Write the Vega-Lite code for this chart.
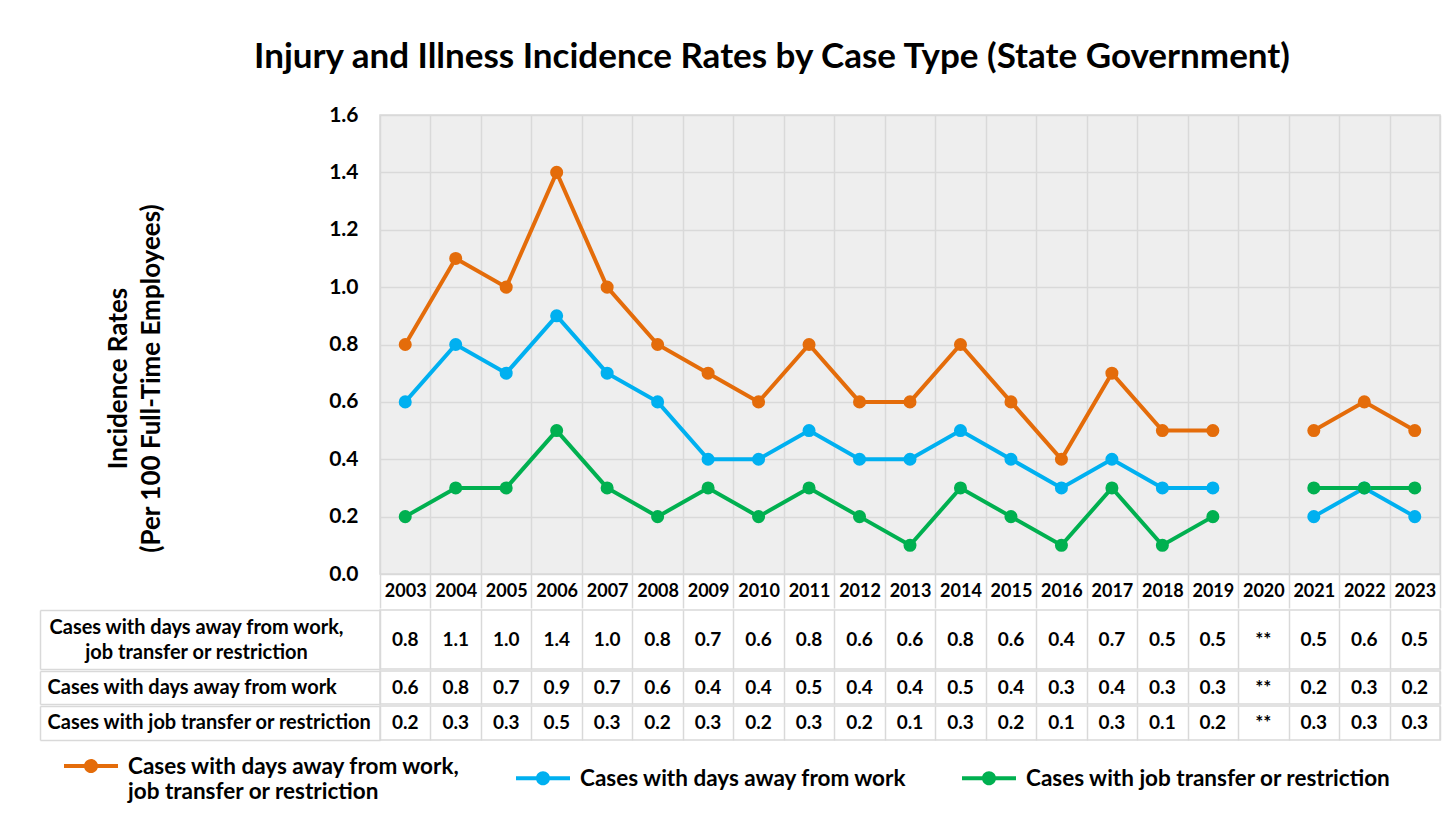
{
  "$schema": "https://vega.github.io/schema/vega-lite/v6.json",
  "background": "white",
  "padding": {"left": 38, "top": 40, "right": 5, "bottom": 5},
  "title": {"text": "Injury and Illness Incidence Rates by Case Type (State Government)", "font": "Lato", "fontSize": 35, "fontWeight": "bold", "color": "black", "anchor": "middle", "offset": 28, "dx": 32},
  "datasets": {
    "rates": [
      {"year": 2003, "series": "Cases with days away from work, job transfer or restriction", "value": 0.8},
      {"year": 2004, "series": "Cases with days away from work, job transfer or restriction", "value": 1.1},
      {"year": 2005, "series": "Cases with days away from work, job transfer or restriction", "value": 1.0},
      {"year": 2006, "series": "Cases with days away from work, job transfer or restriction", "value": 1.4},
      {"year": 2007, "series": "Cases with days away from work, job transfer or restriction", "value": 1.0},
      {"year": 2008, "series": "Cases with days away from work, job transfer or restriction", "value": 0.8},
      {"year": 2009, "series": "Cases with days away from work, job transfer or restriction", "value": 0.7},
      {"year": 2010, "series": "Cases with days away from work, job transfer or restriction", "value": 0.6},
      {"year": 2011, "series": "Cases with days away from work, job transfer or restriction", "value": 0.8},
      {"year": 2012, "series": "Cases with days away from work, job transfer or restriction", "value": 0.6},
      {"year": 2013, "series": "Cases with days away from work, job transfer or restriction", "value": 0.6},
      {"year": 2014, "series": "Cases with days away from work, job transfer or restriction", "value": 0.8},
      {"year": 2015, "series": "Cases with days away from work, job transfer or restriction", "value": 0.6},
      {"year": 2016, "series": "Cases with days away from work, job transfer or restriction", "value": 0.4},
      {"year": 2017, "series": "Cases with days away from work, job transfer or restriction", "value": 0.7},
      {"year": 2018, "series": "Cases with days away from work, job transfer or restriction", "value": 0.5},
      {"year": 2019, "series": "Cases with days away from work, job transfer or restriction", "value": 0.5},
      {"year": 2020, "series": "Cases with days away from work, job transfer or restriction", "value": null},
      {"year": 2021, "series": "Cases with days away from work, job transfer or restriction", "value": 0.5},
      {"year": 2022, "series": "Cases with days away from work, job transfer or restriction", "value": 0.6},
      {"year": 2023, "series": "Cases with days away from work, job transfer or restriction", "value": 0.5},
      {"year": 2003, "series": "Cases with days away from work", "value": 0.6},
      {"year": 2004, "series": "Cases with days away from work", "value": 0.8},
      {"year": 2005, "series": "Cases with days away from work", "value": 0.7},
      {"year": 2006, "series": "Cases with days away from work", "value": 0.9},
      {"year": 2007, "series": "Cases with days away from work", "value": 0.7},
      {"year": 2008, "series": "Cases with days away from work", "value": 0.6},
      {"year": 2009, "series": "Cases with days away from work", "value": 0.4},
      {"year": 2010, "series": "Cases with days away from work", "value": 0.4},
      {"year": 2011, "series": "Cases with days away from work", "value": 0.5},
      {"year": 2012, "series": "Cases with days away from work", "value": 0.4},
      {"year": 2013, "series": "Cases with days away from work", "value": 0.4},
      {"year": 2014, "series": "Cases with days away from work", "value": 0.5},
      {"year": 2015, "series": "Cases with days away from work", "value": 0.4},
      {"year": 2016, "series": "Cases with days away from work", "value": 0.3},
      {"year": 2017, "series": "Cases with days away from work", "value": 0.4},
      {"year": 2018, "series": "Cases with days away from work", "value": 0.3},
      {"year": 2019, "series": "Cases with days away from work", "value": 0.3},
      {"year": 2020, "series": "Cases with days away from work", "value": null},
      {"year": 2021, "series": "Cases with days away from work", "value": 0.2},
      {"year": 2022, "series": "Cases with days away from work", "value": 0.3},
      {"year": 2023, "series": "Cases with days away from work", "value": 0.2},
      {"year": 2003, "series": "Cases with job transfer or restriction", "value": 0.2},
      {"year": 2004, "series": "Cases with job transfer or restriction", "value": 0.3},
      {"year": 2005, "series": "Cases with job transfer or restriction", "value": 0.3},
      {"year": 2006, "series": "Cases with job transfer or restriction", "value": 0.5},
      {"year": 2007, "series": "Cases with job transfer or restriction", "value": 0.3},
      {"year": 2008, "series": "Cases with job transfer or restriction", "value": 0.2},
      {"year": 2009, "series": "Cases with job transfer or restriction", "value": 0.3},
      {"year": 2010, "series": "Cases with job transfer or restriction", "value": 0.2},
      {"year": 2011, "series": "Cases with job transfer or restriction", "value": 0.3},
      {"year": 2012, "series": "Cases with job transfer or restriction", "value": 0.2},
      {"year": 2013, "series": "Cases with job transfer or restriction", "value": 0.1},
      {"year": 2014, "series": "Cases with job transfer or restriction", "value": 0.3},
      {"year": 2015, "series": "Cases with job transfer or restriction", "value": 0.2},
      {"year": 2016, "series": "Cases with job transfer or restriction", "value": 0.1},
      {"year": 2017, "series": "Cases with job transfer or restriction", "value": 0.3},
      {"year": 2018, "series": "Cases with job transfer or restriction", "value": 0.1},
      {"year": 2019, "series": "Cases with job transfer or restriction", "value": 0.2},
      {"year": 2020, "series": "Cases with job transfer or restriction", "value": null},
      {"year": 2021, "series": "Cases with job transfer or restriction", "value": 0.3},
      {"year": 2022, "series": "Cases with job transfer or restriction", "value": 0.3},
      {"year": 2023, "series": "Cases with job transfer or restriction", "value": 0.3}
    ]
  },
  "data": {"name": "rates"},
  "spacing": -7,
  "vconcat": [
    {
      "width": 1060,
      "height": 459,
      "view": {"fill": "#eeeeee", "stroke": "#d9d9d9", "strokeWidth": 1.5},
      "encoding": {
        "x": {
          "field": "year", "type": "ordinal",
          "scale": {"type": "band", "domain": [2003, 2004, 2005, 2006, 2007, 2008, 2009, 2010, 2011, 2012, 2013, 2014, 2015, 2016, 2017, 2018, 2019, 2020, 2021, 2022, 2023], "paddingInner": 0, "paddingOuter": 0},
          "axis": {"title": null, "tickBand": "extent", "grid": true, "gridColor": "#d9d9d9", "gridWidth": 1.5, "domain": false, "ticks": true, "tickSize": 34, "tickColor": "#d9d9d9", "tickWidth": 1.5, "labelAngle": 0, "labelBaseline": "middle", "labelPadding": -17, "labelFontSize": 18, "minExtent": 0, "maxExtent": 34}
        },
        "y": {
          "field": "value", "type": "quantitative",
          "scale": {"domain": [0, 1.6], "nice": false},
          "axis": {"values": [0, 0.2, 0.4, 0.6, 0.8, 1.0, 1.2, 1.4, 1.6], "format": ".1f", "grid": true, "gridColor": "#d9d9d9", "gridWidth": 1.5, "domain": false, "ticks": false, "labelPadding": 22, "labelFontSize": 21, "title": ["Incidence Rates", "(Per 100 Full-Time Employees)"], "titleFontSize": 26, "titleFontWeight": "bold", "titleLineHeight": 33, "titlePadding": 164, "titleY": 263}
        },
        "color": {
          "field": "series", "type": "nominal",
          "scale": {"domain": ["Cases with days away from work, job transfer or restriction", "Cases with days away from work", "Cases with job transfer or restriction"], "range": ["#E46C0A", "#00B0F0", "#00B050"]},
          "legend": {
            "orient": "none", "legendX": -316, "legendY": 624, "direction": "horizontal", "columns": 3, "columnPadding": 55, "title": null,
            "symbolType": "M-1,-0.075L1,-0.075L1,0.075L-1,0.075Z M-0.26,0A0.26,0.26 0 1,1 0.26,0A0.26,0.26 0 1,1 -0.26,0Z",
            "symbolSize": 2916, "symbolStrokeWidth": 0, "symbolOpacity": 1,
            "labelFont": "Lato", "labelFontSize": 22.5, "labelFontWeight": "bold", "labelColor": "black", "labelOffset": 10, "labelLimit": 600,
            "labelBaseline": "alphabetic", "labelLineHeight": 30,
            "labelExpr": "datum.label == 'Cases with days away from work, job transfer or restriction' ? ['Cases with days away from work,', 'job transfer or restriction'] : datum.label",
            "encode": {"labels": {"update": {"dy": {"value": 8}}}}
          }
        }
      },
      "layer": [
        {"mark": {"type": "line", "strokeWidth": 4, "invalid": "break-paths-show-domains"}},
        {"mark": {"type": "circle", "size": 170, "opacity": 1}}
      ]
    },
    {
      "width": 1060,
      "height": 59,
      "view": {"stroke": "#d9d9d9", "strokeWidth": 1.5},
      "transform": [{"filter": "datum.series == 'Cases with days away from work, job transfer or restriction'"}],
      "encoding": {
        "x": {
          "field": "year", "type": "ordinal",
          "scale": {"type": "band", "domain": [2003, 2004, 2005, 2006, 2007, 2008, 2009, 2010, 2011, 2012, 2013, 2014, 2015, 2016, 2017, 2018, 2019, 2020, 2021, 2022, 2023], "paddingInner": 0, "paddingOuter": 0},
          "axis": {"title": null, "labels": false, "ticks": false, "domain": false, "grid": true, "tickBand": "extent", "gridColor": "#d9d9d9", "gridWidth": 1.5, "minExtent": 0, "maxExtent": 0, "labelPadding": 0}
        }
      },
      "layer": [
        {
          "mark": {"type": "text", "font": "Lato", "fontSize": 19, "fontWeight": "bold", "color": "black"},
          "encoding": {
            "y": {"field": "series", "type": "nominal", "scale": {"type": "band", "paddingInner": 0, "paddingOuter": 0},
              "axis": {"title": null, "orient": "left", "offset": 340, "domain": true, "domainColor": "#d9d9d9", "domainWidth": 1.5, "ticks": true, "tickBand": "extent", "tickSize": -340, "tickColor": "#d9d9d9", "tickWidth": 1.5, "labels": false}},
            "text": {"condition": {"test": "datum.value === null", "value": "**"}, "field": "value", "type": "quantitative", "format": ".1f"}
          }
        },
        {
          "mark": {"type": "text", "opacity": 0},
          "encoding": {
            "y": {"field": "series", "type": "nominal",
              "axis": {"title": null, "orient": "left", "domain": false, "ticks": false, "labelAlign": "center", "labelBaseline": "middle", "labelPadding": 184, "labelFontSize": 20, "labelLineHeight": 25, "labelOffset": -12, "labelExpr": "['Cases with days away from work,', 'job transfer or restriction']"}}
          }
        }
      ],
      "resolve": {"axis": {"y": "independent"}}
    },
    {
      "width": 1060,
      "height": 33,
      "view": {"stroke": "#d9d9d9", "strokeWidth": 1.5},
      "transform": [{"filter": "datum.series == 'Cases with days away from work'"}],
      "encoding": {
        "x": {
          "field": "year", "type": "ordinal",
          "scale": {"type": "band", "domain": [2003, 2004, 2005, 2006, 2007, 2008, 2009, 2010, 2011, 2012, 2013, 2014, 2015, 2016, 2017, 2018, 2019, 2020, 2021, 2022, 2023], "paddingInner": 0, "paddingOuter": 0},
          "axis": {"title": null, "labels": false, "ticks": false, "domain": false, "grid": true, "tickBand": "extent", "gridColor": "#d9d9d9", "gridWidth": 1.5, "minExtent": 0, "maxExtent": 0, "labelPadding": 0}
        }
      },
      "layer": [
        {
          "mark": {"type": "text", "font": "Lato", "fontSize": 19, "fontWeight": "bold", "color": "black"},
          "encoding": {
            "y": {"field": "series", "type": "nominal", "scale": {"type": "band", "paddingInner": 0, "paddingOuter": 0},
              "axis": {"title": null, "orient": "left", "offset": 340, "domain": true, "domainColor": "#d9d9d9", "domainWidth": 1.5, "ticks": true, "tickBand": "extent", "tickSize": -340, "tickColor": "#d9d9d9", "tickWidth": 1.5, "labels": false}},
            "text": {"condition": {"test": "datum.value === null", "value": "**"}, "field": "value", "type": "quantitative", "format": ".1f"}
          }
        },
        {
          "mark": {"type": "text", "opacity": 0},
          "encoding": {
            "y": {"field": "series", "type": "nominal",
              "axis": {"title": null, "orient": "left", "domain": false, "ticks": false, "labelAlign": "left", "labelBaseline": "middle", "labelPadding": 333, "labelFontSize": 20}}
          }
        }
      ],
      "resolve": {"axis": {"y": "independent"}}
    },
    {
      "width": 1060,
      "height": 34,
      "view": {"stroke": "#d9d9d9", "strokeWidth": 1.5},
      "transform": [{"filter": "datum.series == 'Cases with job transfer or restriction'"}],
      "encoding": {
        "x": {
          "field": "year", "type": "ordinal",
          "scale": {"type": "band", "domain": [2003, 2004, 2005, 2006, 2007, 2008, 2009, 2010, 2011, 2012, 2013, 2014, 2015, 2016, 2017, 2018, 2019, 2020, 2021, 2022, 2023], "paddingInner": 0, "paddingOuter": 0},
          "axis": {"title": null, "labels": false, "ticks": false, "domain": false, "grid": true, "tickBand": "extent", "gridColor": "#d9d9d9", "gridWidth": 1.5, "minExtent": 0, "maxExtent": 0, "labelPadding": 0}
        }
      },
      "layer": [
        {
          "mark": {"type": "text", "font": "Lato", "fontSize": 19, "fontWeight": "bold", "color": "black"},
          "encoding": {
            "y": {"field": "series", "type": "nominal", "scale": {"type": "band", "paddingInner": 0, "paddingOuter": 0},
              "axis": {"title": null, "orient": "left", "offset": 340, "domain": true, "domainColor": "#d9d9d9", "domainWidth": 1.5, "ticks": true, "tickBand": "extent", "tickSize": -340, "tickColor": "#d9d9d9", "tickWidth": 1.5, "labels": false}},
            "text": {"condition": {"test": "datum.value === null", "value": "**"}, "field": "value", "type": "quantitative", "format": ".1f"}
          }
        },
        {
          "mark": {"type": "text", "opacity": 0},
          "encoding": {
            "y": {"field": "series", "type": "nominal",
              "axis": {"title": null, "orient": "left", "domain": false, "ticks": false, "labelAlign": "left", "labelBaseline": "middle", "labelPadding": 333, "labelFontSize": 20}}
          }
        }
      ],
      "resolve": {"axis": {"y": "independent"}}
    }
  ],
  "config": {
    "font": "Lato",
    "concat": {"spacing": -7},
    "axis": {"labelFont": "Lato", "labelFontWeight": "bold", "labelColor": "black", "titleFont": "Lato", "titleColor": "black", "labelLimit": 500}
  }
}
